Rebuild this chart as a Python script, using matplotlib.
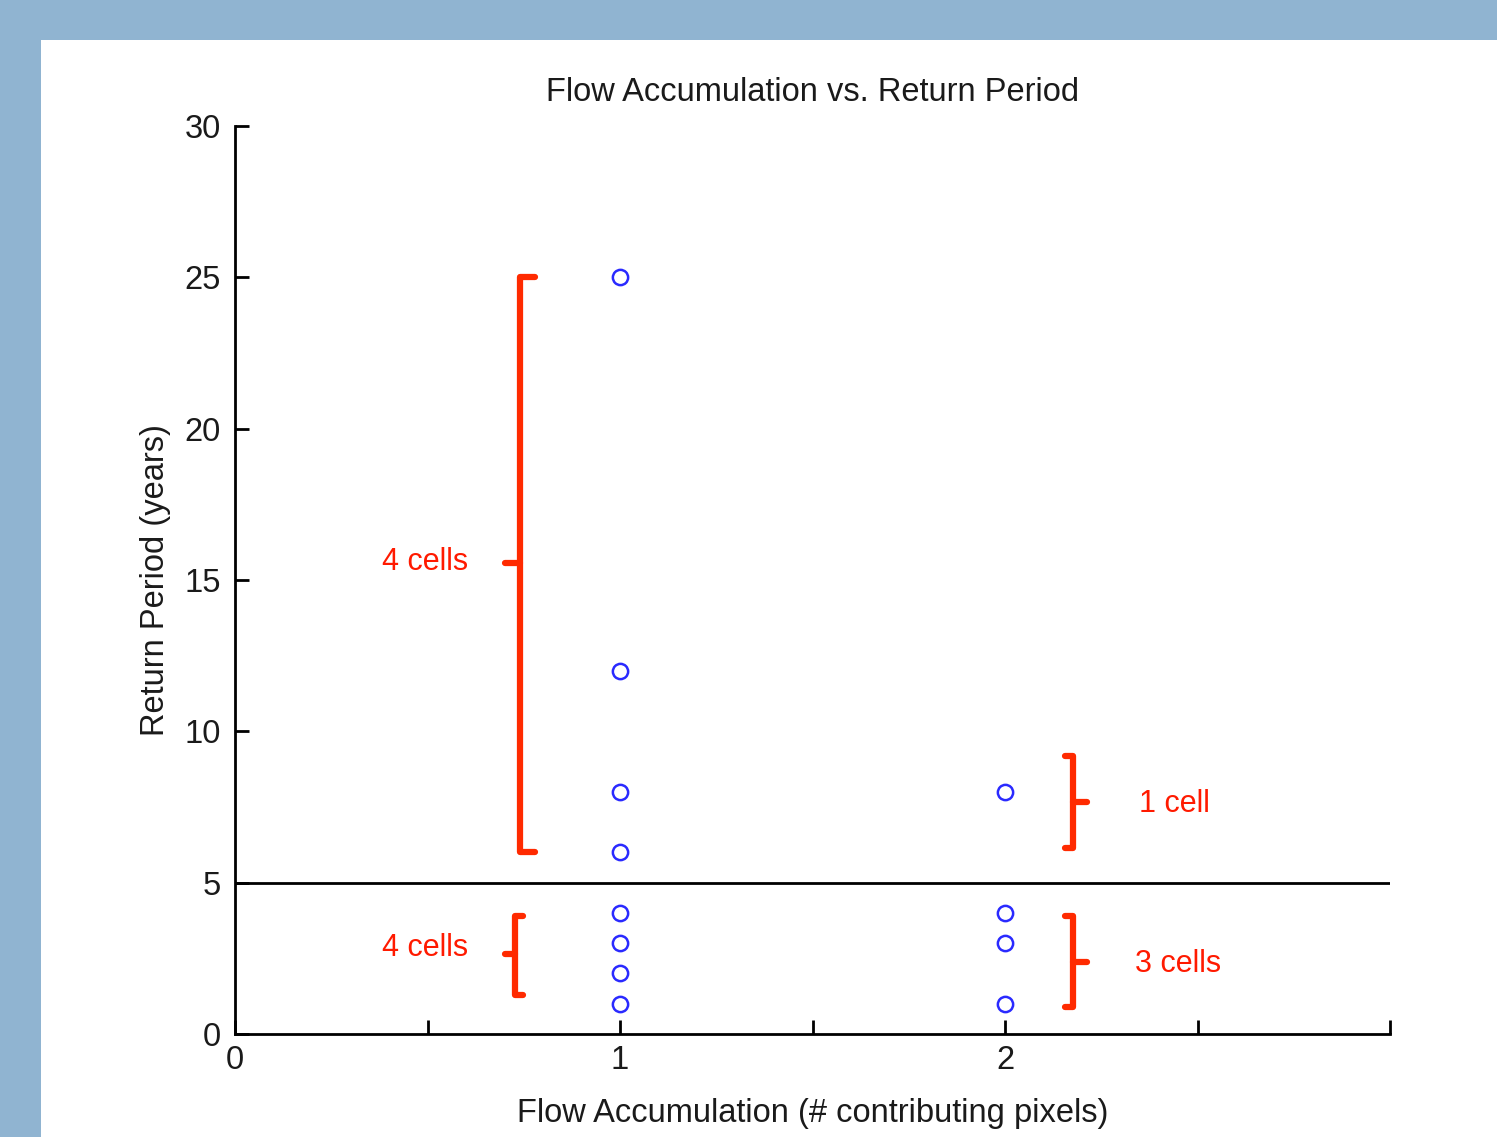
import matplotlib
matplotlib.use("Agg")
import matplotlib.pyplot as plt
from matplotlib.patches import Rectangle

# Data
x_vals = [1, 1, 1, 1, 1, 1, 1, 1, 2, 2, 2, 2]
y_vals = [25, 12, 8, 6, 4, 3, 2, 1, 8, 4, 3, 1]
threshold = 5
x_ticks = [0, 0.5, 1, 1.5, 2, 2.5, 3]
x_ticklabels = ["0", "", "1", "", "2", "", ""]
y_ticks = [0, 5, 10, 15, 20, 25, 30]
y_ticklabels = ["0", "5", "10", "15", "20", "25", "30"]
annot_labels = ["4 cells", "4 cells", "1 cell", "3 cells"]

FONT = ["Liberation Sans", "DejaVu Sans"]
RED = "#ff2a00"
TXT = "#1a1a1a"
FS = 23.5

fig = plt.figure(figsize=(14.97, 11.37), dpi=100)
fig.patch.set_facecolor("#90b4d1")
fig.patches.append(Rectangle((41 / 1497, 0), 1, (1137 - 40) / 1137,
                             transform=fig.transFigure, facecolor="white",
                             edgecolor="none", zorder=-10))

ax = fig.add_axes([235 / 1497, 103 / 1137, 1155 / 1497, 908 / 1137])
ax.set_facecolor("none")
ax.set_xlim(0, 3)
ax.set_ylim(0, 30)

ax.plot(x_vals, y_vals, linestyle="none", marker="o", markersize=11,
        markerfacecolor="none", markeredgecolor="#2a2aff", markeredgewidth=1.8,
        zorder=3)
ax.axhline(threshold, color="black", lw=2, zorder=2)

for s in ["top", "right"]:
    ax.spines[s].set_visible(False)
for s in ["left", "bottom"]:
    ax.spines[s].set_linewidth(2)
    ax.spines[s].set_color("black")

ax.set_xticks(x_ticks)
ax.set_xticklabels(x_ticklabels)
ax.set_yticks(y_ticks)
ax.set_yticklabels(y_ticklabels)
ax.tick_params(direction="in", length=10, width=2, labelsize=FS, colors="black")
ax.tick_params(axis="x", pad=8)
ax.tick_params(axis="y", pad=10)
for lab in ax.get_xticklabels() + ax.get_yticklabels():
    lab.set_family(FONT)
    lab.set_color(TXT)

ax.set_title("Flow Accumulation vs. Return Period", fontsize=FS, family=FONT,
             color=TXT, pad=18)
ax.set_xlabel("Flow Accumulation (# contributing pixels)", fontsize=FS,
              family=FONT, color=TXT, labelpad=16)
ax.set_ylabel("Return Period (years)", fontsize=FS, family=FONT,
              color=TXT, labelpad=10)


def brace(xv, y0, y1, xhook, ymid, xmid):
    kw = dict(color=RED, lw=4.5, solid_capstyle="round",
              solid_joinstyle="round", clip_on=False, zorder=4)
    ax.plot([xhook, xv, xv, xhook], [y1, y1, y0, y0], **kw)
    ax.plot([xv, xmid], [ymid, ymid], **kw)


brace(0.740, 6.0, 25.0, 0.779, 15.55, 0.700)
brace(0.727, 1.3, 3.9, 0.748, 2.65, 0.700)
brace(2.177, 6.15, 9.2, 2.156, 7.67, 2.213)
brace(2.177, 0.9, 3.9, 2.156, 2.38, 2.213)

tkw = dict(color="#ff1a00", fontsize=22, family=FONT, ha="center", va="center")
ax.text(0.494, 15.6, annot_labels[0], **tkw)
ax.text(0.494, 2.85, annot_labels[1], **tkw)
ax.text(2.44, 7.6, annot_labels[2], **tkw)
ax.text(2.45, 2.3, annot_labels[3], **tkw)

fig.savefig("out.png", dpi=100, facecolor=fig.get_facecolor())
